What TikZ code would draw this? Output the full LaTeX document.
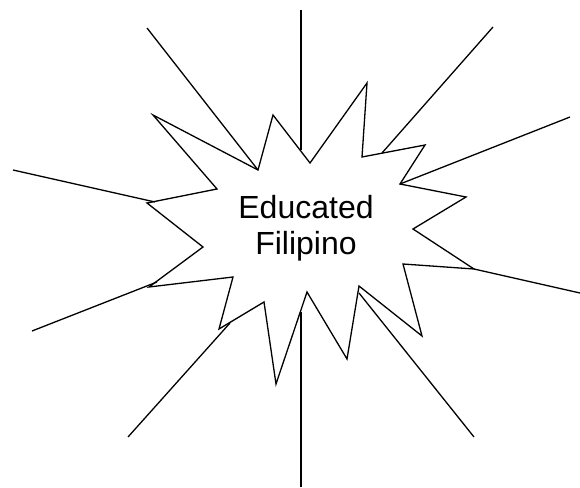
\documentclass[tikz,border=0pt]{standalone}
\usepackage{fontspec}
\setmainfont{Liberation Sans}
\usepackage{tikz}

\begin{document}
\begin{tikzpicture}[x=1pt,y=-1pt,line width=1.3pt,line join=miter]
  \useasboundingbox (0,0) rectangle (580,487);
  % burst outline
  \draw (403,264) -- (474,269) -- (413,229) -- (466,197) -- (400,184) -- (425,145)
    -- (362,157) -- (367,83) -- (310,163) -- (273,115) -- (258,170) -- (153,115)
    -- (217,189) -- (147,203) -- (203,247) -- (149,287) -- (233,277) -- (219,329)
    -- (264,302) -- (276,384) -- (307,292) -- (347,359) -- (359,286) -- (422,336)
    -- cycle;
  \node[align=center,inner sep=0pt,font=\fontsize{32}{36}\selectfont] (lbl) at (306,228) {Educated\\Filipino};
  % ray ends on the burst
  \coordinate (n)  at (301,150);
  \coordinate (nw) at (258,170);
  \coordinate (ne) at (382,153);
  \coordinate (e)  at (400,184);
  \coordinate (se) at (474,269);
  \coordinate (sse) at (359,293);
  \coordinate (s)  at (301,312);
  \coordinate (ssw) at (230,323);
  \coordinate (sw) at (157,282);
  \coordinate (w)  at (155,202);
  % free ends of the rays
  \coordinate (n1)  at (301,10);
  \coordinate (nw1) at (147,28);
  \coordinate (ne1) at (493,27);
  \coordinate (e1)  at (570,117);
  \coordinate (se1) at (580,293);
  \coordinate (sse1) at (474,437);
  \coordinate (s1)  at (301,487);
  \coordinate (ssw1) at (128,437);
  \coordinate (sw1) at (32,331);
  \coordinate (w1)  at (13,170);
  \foreach \r in {n,nw,ne,e,se,sse,s,ssw,sw,w}{
    \draw (\r1) -- (\r);}
\end{tikzpicture}
\end{document}
